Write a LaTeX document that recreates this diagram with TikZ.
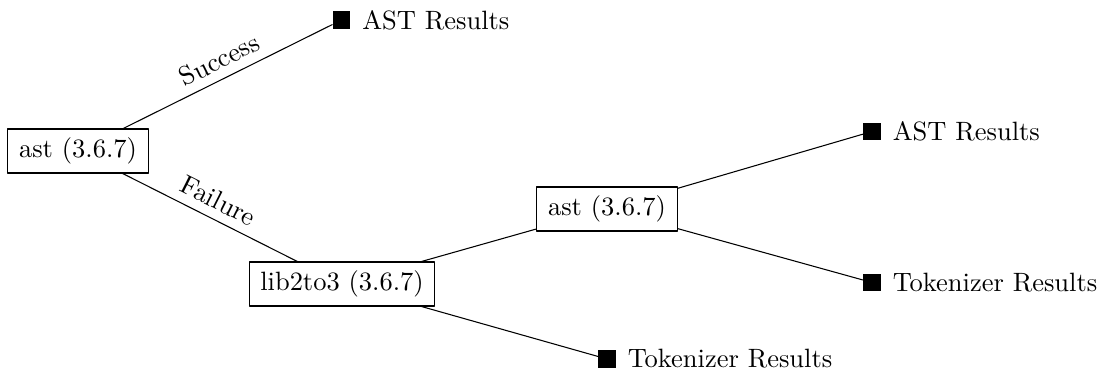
\documentclass[tikz,border=0pt]{standalone}
\usetikzlibrary{positioning}
\begin{document}
\begin{tikzpicture}[x=0.3774pt, y=-0.3774pt, line join=round, line cap=round,
	parser/.style={draw, inner xsep=4.2pt, inner ysep=3.3pt},
	leaf/.style={fill=black, minimum size=6.6pt, inner sep=0pt},
	result/.style={right=0.8pt of #1, inner sep=3.33pt}]
	\useasboundingbox (0,0) rectangle (1099,374);
	% parsers
	\node[parser] (ast) at (78,151) {ast (3.6.7)};
	\node[parser] (lib) at (342,284) {lib2to3 (3.6.7)};
	\node[parser] (astB) at (607,209) {ast (3.6.7)};
	% results
	\node[leaf] (astRes) at (341.5,20) {};
	\node[result=astRes] (astResT) {AST Results};
	\node[leaf] (astBRes) at (872,131.5) {};
	\node[result=astBRes] (astBResT) {AST Results};
	\node[leaf] (astBTok) at (872,282.5) {};
	\node[result=astBTok] (astBTokT) {Tokenizer Results};
	\node[leaf] (libTok) at (607,359) {};
	\node[result=libTok] (libTokT) {Tokenizer Results};
	
	\draw (ast)--(astRes) node[midway, above, sloped]{Success};
	\draw (ast)--(lib) node[midway, above, sloped]{Failure};
	\draw (lib)--(astB) (lib)--(libTok);
	\draw (astB)--(astBRes) (astB)--(astBTok);
\end{tikzpicture}
\end{document}
